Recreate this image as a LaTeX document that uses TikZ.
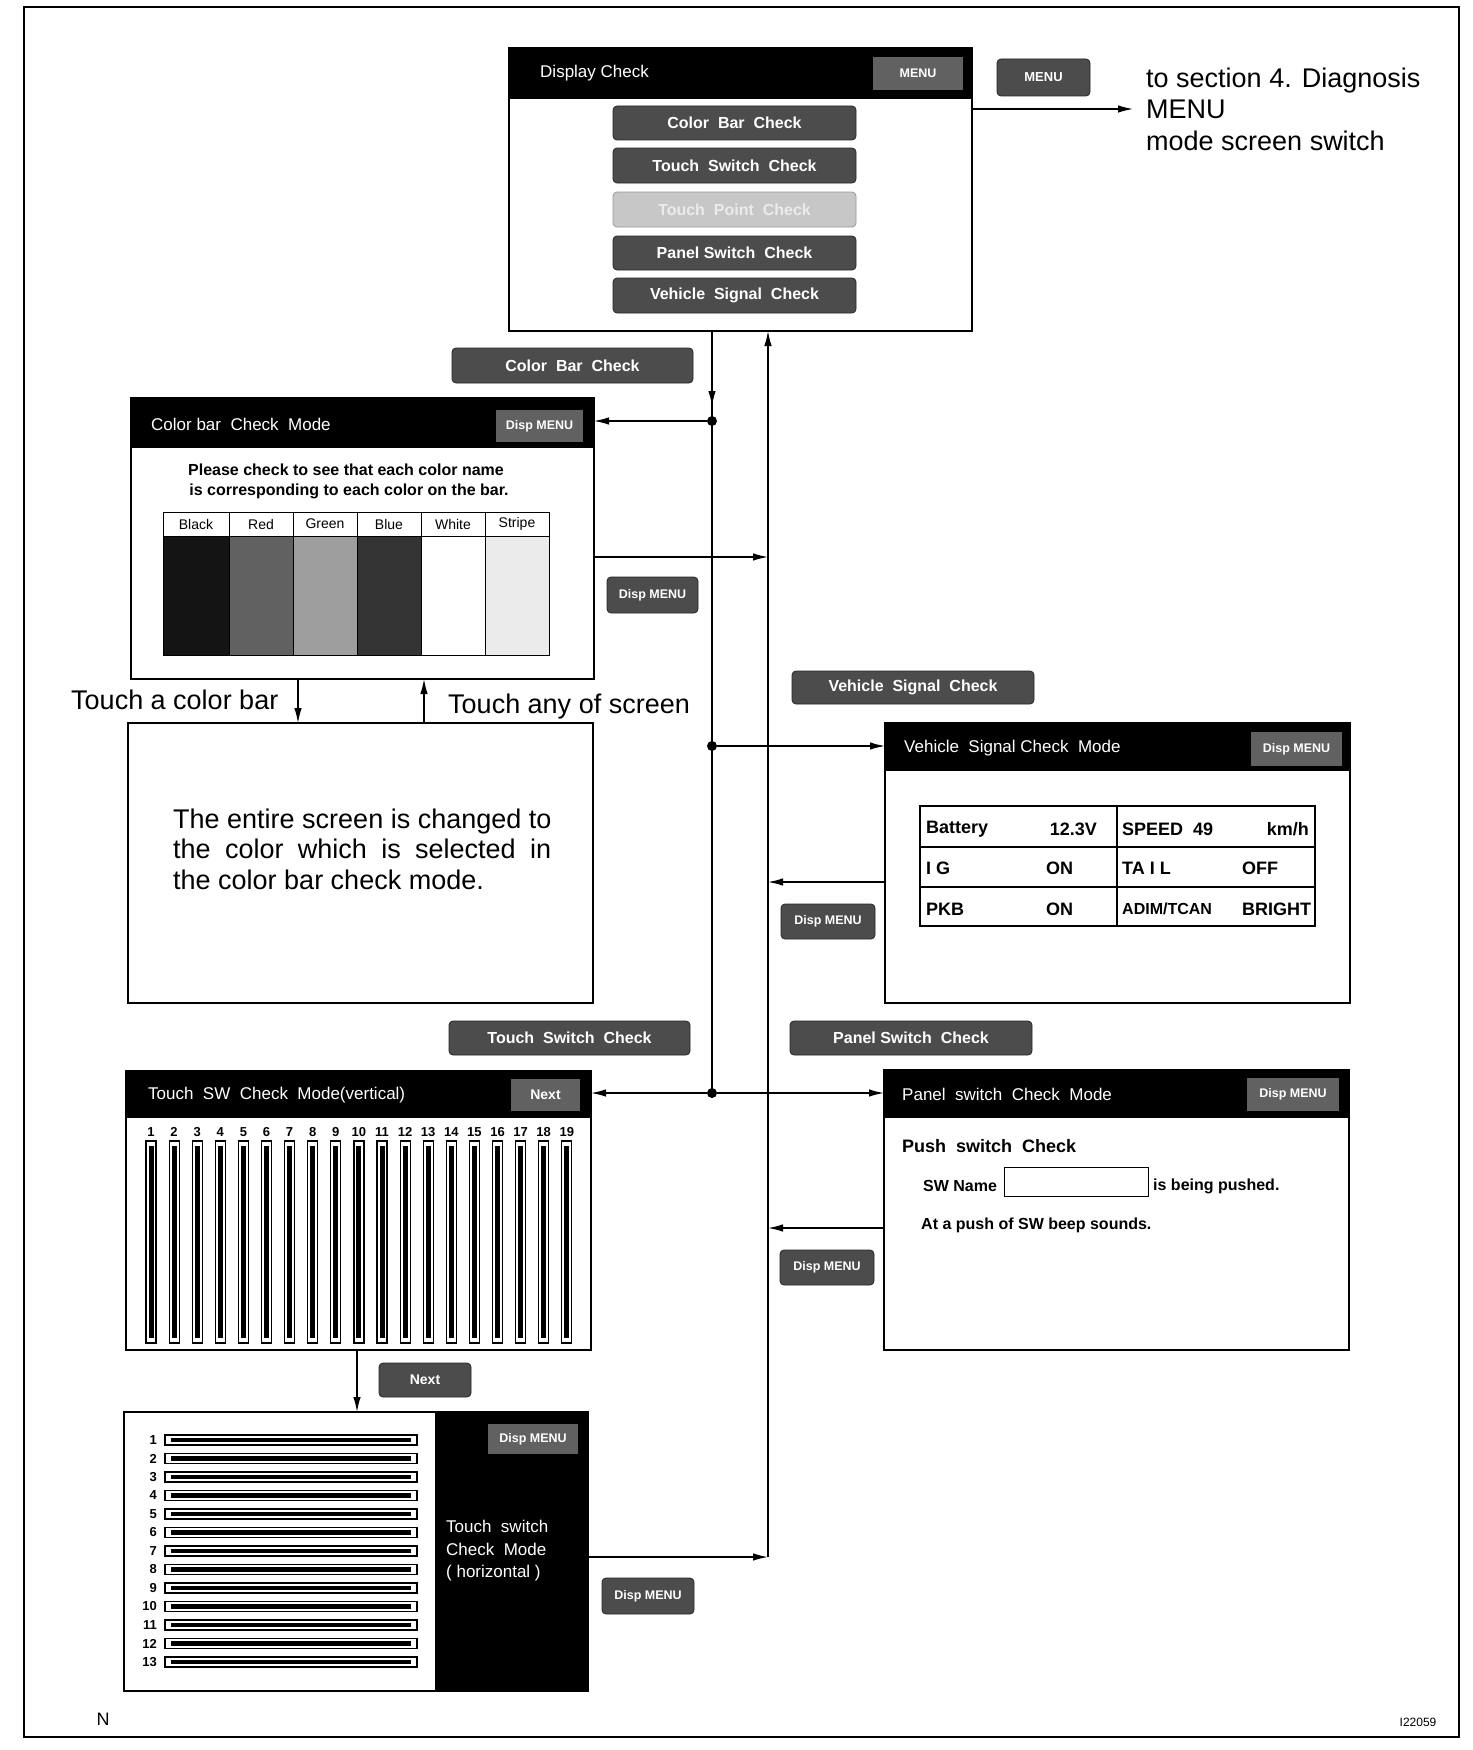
\documentclass[tikz,border=0pt]{standalone}
\usepackage{fontspec}
\setmainfont{Liberation Sans}
\usetikzlibrary{arrows.meta}
\newcommand\myfs[1]{\fontsize{#1}{#1}\selectfont}
\begin{document}
\begin{tikzpicture}[x=1pt,y=-1pt,
  rect/.style n args={4}{anchor=north west, inner sep=0pt, outer sep=0pt,
     minimum width={(#3)-(#1)}, minimum height={(#4)-(#2)}, at={(#1,#2)}},
  screen/.style={draw, line width=1.3pt, fill=white},
  tbar/.style={fill=black},
  btn/.style={fill=black!70, draw=black!85, line width=0.8pt, rounded corners=4pt, text=white, font=\bfseries\myfs{16}},
  dbtn/.style={btn, font=\bfseries\myfs{12.5}},
  tbtn/.style={fill=black!62, text=white, font=\bfseries\myfs{12.5}},
  ttl/.style={anchor=west, text=white, font=\myfs{17}, inner sep=0pt},
  lbl/.style={anchor=base west, inner sep=0pt},
  conn/.style={line width=1.4pt},
  tip/.style={-{Latex[length=15pt,width=7.5pt]}},
  dot/.style={circle, fill=black, inner sep=0pt, minimum size=10pt},
  vt/.style={anchor=west, inner sep=0pt, font=\bfseries\myfs{18}},
  vte/.style={anchor=east, inner sep=0pt, font=\bfseries\myfs{18}},
]
\useasboundingbox (0,0) rectangle (1472,1750);
\fill[white] (0,0) rectangle (1472,1750);
\node[draw, line width=1.5pt, rect={24}{7}{1459}{1737}] (frame) {};

% ---------------- Display Check screen
\node[screen, rect={509}{48}{972}{331}] (dc) {};
\node[tbar, rect={509}{48}{972}{99}] (dcbar) {};
\node[ttl] (dct) at (540,73) {Display Check};
\node[tbtn, rect={873}{57}{963}{90}] (dcmenu) {MENU};
\node[btn, rect={613}{106}{856}{140}] (d1) {Color\ \ Bar\ \ Check};
\node[btn, rect={613}{148}{856}{183}] (d2) {Touch\ \ Switch\ \ Check};
\node[btn, fill=black!22, draw=black!40, text=black!8, rect={613}{192}{856}{227}] (d3) {Touch\ \ Point\ \ Check};
\node[btn, rect={613}{236}{856}{270}] (d4) {Panel\ Switch\ \ Check};
\node[btn, rect={613}{278}{856}{313}] (d5) {Vehicle\ \ Signal\ \ Check};

\node[btn, font=\bfseries\myfs{13}, rect={997}{59}{1090}{96}] (menub) {MENU};
\coordinate (mt) at (1133,109);
\node[lbl, font=\myfs{27}] (mtx1) at (1146,88) {to section 4. Diagnosis};
\node[lbl, font=\myfs{27}] (mtx2) at (1146,119) {MENU};
\node[lbl, font=\myfs{27}] (mtx3) at (1146,150) {mode screen switch};
\draw[conn,tip] (dc.east |- mt) -- (mt);

% ---------------- Color bar check
\node[btn, rect={452}{348}{693}{383}] (bcb) {Color\ \ Bar\ \ Check};
\node[screen, rect={131}{398}{594}{679}] (cb) {};
\node[tbar, rect={131}{398}{594}{448}] (cbbar) {};
\node[ttl] (cbt) at (151,424) {Color\ bar\ \ Check\ \ Mode};
\node[tbtn, rect={496}{410}{583}{442}] (cbm) {Disp MENU};
\node[font=\bfseries\myfs{16}, inner sep=0pt] (cbx1) at (346,470) {Please check to see that each color name};
\node[font=\bfseries\myfs{16}, inner sep=0pt] (cbx2) at (349,491) {is corresponding to each color on the bar.};
\foreach \xa/\xb/\nm/\cl [count=\i] in {163/229/Black/black!92, 229/293/Red/black!62, 293/357/Green/black!38, 357/421/Blue/black!80, 421/485/White/white, 485/549/Stripe/black!8}{
  \fill[\cl] (\xa,536) rectangle (\xb,655);
  \draw[line width=1pt] (\xa,512) rectangle (\xb,655);
  \draw[line width=1pt] (\xa,536) -- (\xb,536);
  \node[font=\myfs{14}, inner sep=0pt] (ch\i) at ({(\xa+\xb)/2},524) {\nm};
}
\node[dbtn, rect={607}{577}{698}{613}] (cbd) {Disp MENU};

\coordinate (xa) at (298,700);
\coordinate (xb) at (424,700);
\node[lbl, font=\myfs{27}] (tcb) at (71,709) {Touch a color bar};
\node[lbl, font=\myfs{27}] (tas) at (448,713) {Touch any of screen};

% ---------------- entire screen
\node[screen, rect={128}{723}{593}{1003}] (es) {};
\node[lbl, font=\myfs{27}] (es1) at (173,828) {The entire screen is changed to};
\node[lbl, font=\myfs{27}] (es2) at (173,858) {\makebox[378pt][s]{the color which is selected in}};
\node[lbl, font=\myfs{27}] (es3) at (173,889) {the color bar check mode.};
\draw[conn,tip] (cb.south -| xa) -- (es.north -| xa);
\draw[conn,tip] (es.north -| xb) -- (cb.south -| xb);

% ---------------- Vehicle signal check
\node[btn, rect={792}{671}{1034}{704}] (bvs) {Vehicle\ \ Signal\ \ Check};
\node[screen, rect={885}{723}{1350}{1003}] (vs) {};
\node[tbar, rect={885}{723}{1350}{771}] (vsbar) {};
\node[ttl] (vst) at (904,748) {Vehicle\ \ Signal Check\ \ Mode};
\node[tbtn, rect={1251}{732}{1342}{766}] (vsm) {Disp MENU};
\draw[line width=1.2pt] (920,806) rectangle (1315,926);
\draw[line width=1.2pt] (920,847) -- (1315,847) (920,887) -- (1315,887) (1117,806) -- (1117,926);
\node[vt] (v11) at (926,829) {Battery};
\node[vte] (v12) at (1097,829) {12.3V};
\node[vt] (v13) at (1122,829) {SPEED\ \ 49};
\node[vte] (v14) at (1309,829) {km/h};
\node[vt] (v21) at (926,868) {I G};
\node[vt] (v22) at (1046,868) {ON};
\node[vt] (v23) at (1122,868) {TA I L};
\node[vt] (v24) at (1242,868) {OFF};
\node[vt] (v31) at (926,909) {PKB};
\node[vt] (v32) at (1046,909) {ON};
\node[vt, font=\bfseries\myfs{16}] (v33) at (1122,909) {ADIM/TCAN};
\node[vt] (v34) at (1242,909) {BRIGHT};
\node[dbtn, rect={781}{904}{875}{939}] (vsd) {Disp MENU};

% ---------------- Touch SW (vertical)
\node[btn, rect={449}{1021}{690}{1055}] (bts) {Touch\ \ Switch\ \ Check};
\node[screen, rect={126}{1071}{591}{1350}] (ts) {};
\node[tbar, rect={126}{1071}{591}{1118}] (tsbar) {};
\node[ttl] (tst) at (148,1095) {Touch\ \ SW\ \ Check\ \ Mode(vertical)};
\node[tbtn, font=\bfseries\myfs{14}, rect={511}{1079}{580}{1111}] (tsn) {Next};
\foreach \i [count=\n from 1] in {0,...,18}{
  \pgfmathsetmacro\xx{151+23.1*\i}
  \node[font=\bfseries\myfs{13}, inner sep=0pt] (tn\n) at (\xx,1132) {\n};
  \draw[line width=1.2pt] ({\xx-5},1141) rectangle ({\xx+5},1343);
  \fill ({\xx-2.5},1146) rectangle ({\xx+2.5},1338);
}

% ---------------- Panel switch check
\node[btn, rect={790}{1021}{1032}{1055}] (bps) {Panel Switch\ \ Check};
\node[screen, rect={884}{1070}{1349}{1350}] (ps) {};
\node[tbar, rect={884}{1070}{1349}{1118}] (psbar) {};
\node[ttl] (pst) at (902,1094) {Panel\ \ switch\ \ Check\ \ Mode};
\node[tbtn, rect={1247}{1078}{1339}{1111}] (psm) {Disp MENU};
\node[anchor=west, inner sep=0pt, font=\bfseries\myfs{18}] (pp1) at (902,1146) {Push\ \ switch\ \ Check};
\node[anchor=west, inner sep=0pt, font=\bfseries\myfs{16}] (pp2) at (923,1186) {SW Name};
\node[draw, line width=1pt, rect={1004}{1167}{1148}{1196}] (ppbox) {};
\node[anchor=west, inner sep=0pt, font=\bfseries\myfs{16}] (pp3) at (1153,1186) {is being pushed.};
\node[anchor=west, inner sep=0pt, font=\bfseries\myfs{16}] (pp4) at (921,1225) {At a push of SW beep sounds.};
\node[dbtn, rect={780}{1250}{874}{1285}] (psd) {Disp MENU};

% ---------------- Touch SW (horizontal)
\node[btn, font=\bfseries\myfs{14}, rect={379}{1363}{471}{1397}] (bnx) {Next};
\node[screen, rect={124}{1412}{588}{1691}] (hz) {};
\node[fill=black, rect={435}{1412}{588}{1691}] (hzp) {};
\draw[line width=1.3pt] (124,1412) rectangle (588,1691);
\node[tbtn, rect={488}{1424}{578}{1454}] (hzm) {Disp MENU};
\node[lbl, text=white, font=\myfs{17}] (hzt1) at (446,1532) {Touch\ \ switch};
\node[lbl, text=white, font=\myfs{17}] (hzt2) at (446,1555) {Check\ \ Mode};
\node[lbl, text=white, font=\myfs{17}] (hzt3) at (446,1577) {( horizontal )};
\foreach \i [count=\n from 1] in {0,...,12}{
  \pgfmathsetmacro\yy{1440+18.5*\i}
  \node[anchor=east, font=\bfseries\myfs{13}, inner sep=0pt] (hn\n) at (157,\yy) {\n};
  \draw[line width=1.2pt] (165,{\yy-5}) rectangle (417,{\yy+5});
  \fill (171,{\yy-2.2}) rectangle (411,{\yy+2.2});
}
\node[dbtn, rect={602}{1578}{694}{1614}] (hzd) {Disp MENU};
\coordinate (xn) at (357,1380);
\draw[conn,tip] (ts.south -| xn) -- (hz.north -| xn);

% ---------------- trunk lines
\node[dot] (j1) at (712,421) {};
\node[dot] (j2) at (712,746) {};
\node[dot] (j3) at (712,1093) {};
\coordinate (a1) at (712,406);
\draw[conn] (dc.south -| j1) -- (j3.center);
\draw[conn,tip] (dc.south -| j1) -- (a1);
\draw[conn,tip] (j1) -- (cb.east |- j1);
\draw[conn,tip] (j2) -- (vs.west |- j2);
\draw[conn,tip] (j3) -- (ts.east |- j3);
\draw[conn,tip] (j3) -- (ps.west |- j3);

\coordinate (r0) at (768,1557);
\coordinate (r1) at (768,557);
\coordinate (r2) at (768,882);
\coordinate (r3) at (768,1228);
\draw[conn,tip] (hz.east |- r0) -- (r0);
\draw[conn,tip] (r0) -- (dc.south -| r0);
\draw[conn,tip] (cb.east |- r1) -- (r1);
\draw[conn,tip] (vs.west |- r2) -- (r2);
\draw[conn,tip] (ps.west |- r3) -- (r3);

% ---------------- footer
\node[font=\myfs{18}, inner sep=0pt] (fn) at (103,1719) {N};
\node[font=\myfs{12}, inner sep=0pt] (fid) at (1418,1722) {I22059};
\end{tikzpicture}
\end{document}
